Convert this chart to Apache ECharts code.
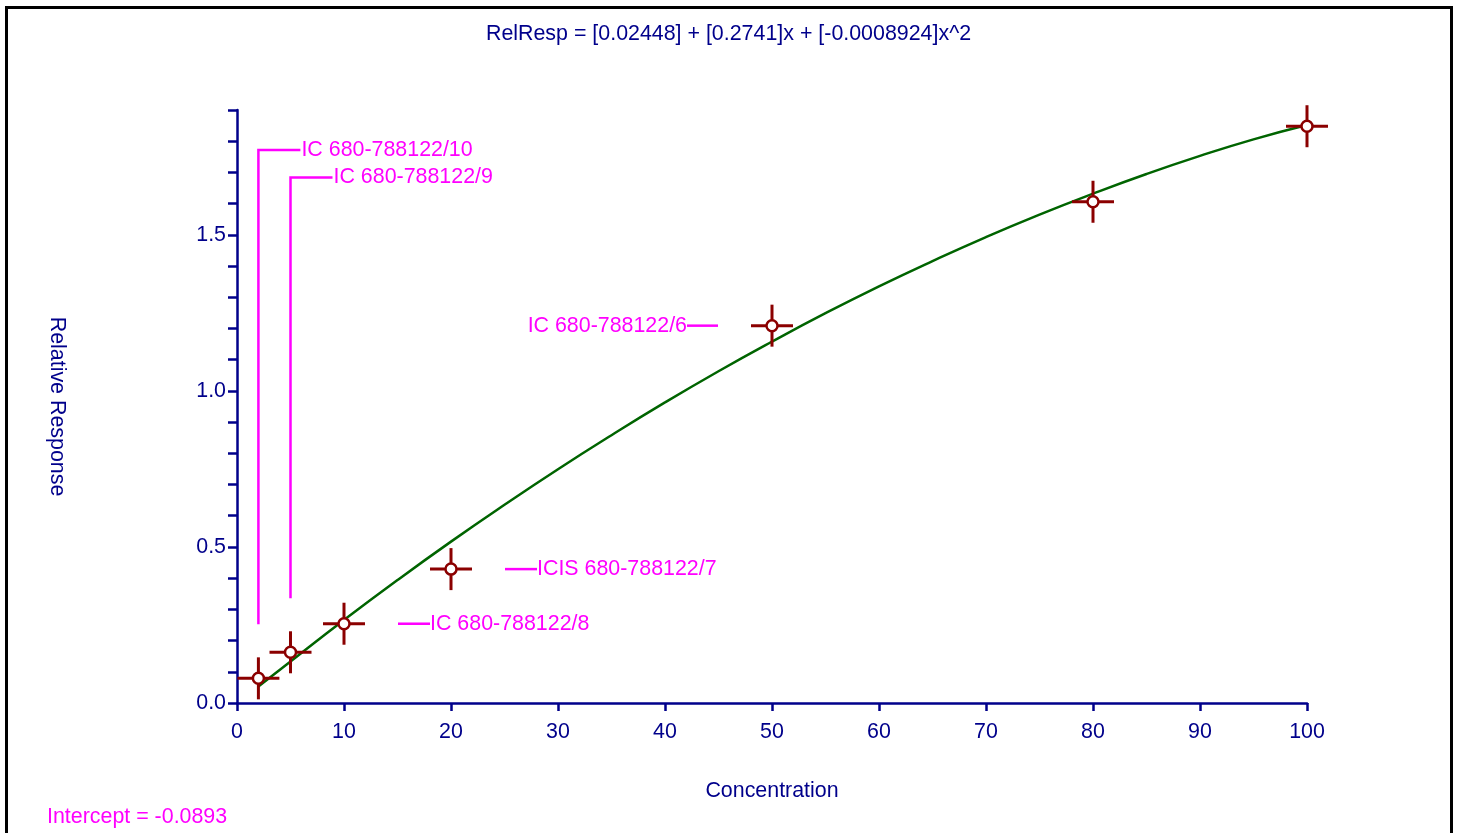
<!DOCTYPE html>
<html>
<head>
<meta charset="utf-8">
<script src="https://cdn.jsdelivr.net/npm/echarts@6/dist/echarts.min.js"></script>
<style>
  html, body { margin: 0; padding: 0; background: #fff; }
  #chart { width: 1457px; height: 833px; }
</style>
</head>
<body>
<div id="chart"></div>
<script>
// ---- data ----
const pointX = [2, 5, 10, 20, 50, 80, 100];
const pointY = [0.079, 0.1625, 0.254, 0.429, 1.209, 1.606, 1.848];
const pointLabels = ['IC 680-788122/10', 'IC 680-788122/9', 'IC 680-788122/8', 'ICIS 680-788122/7', 'IC 680-788122/6', '', ''];
const curveX = [2, 5, 10, 15, 20, 25, 30, 35, 40, 45, 50, 55, 60, 65, 70, 75, 80, 85, 90, 95, 100];
const curveY = [0.053, 0.133, 0.266, 0.394, 0.517, 0.635, 0.749, 0.858, 0.963, 1.063, 1.158, 1.249, 1.335, 1.416, 1.493, 1.565, 1.632, 1.695, 1.753, 1.806, 1.852];
const titleText = 'RelResp = [0.02448] + [0.2741]x + [-0.0008924]x^2';
const interceptText = 'Intercept = -0.0893';
const xName = 'Concentration';
const yName = 'Relative Response';

// ---- styling / layout ----
const FONT = 'Liberation Sans, Arial, sans-serif';
const NAVY = '#00008B';
const MAGENTA = '#FF00FF';
const MARK = '#8B0000';
const CURVE = '#006400';
const FS = 21.4;

// annotation layout: how each label is attached to its point
const annotLayout = [
  { dir: 'up', labelY: 1.772 },
  { dir: 'up', labelY: 1.684 },
  { dir: 'right' },
  { dir: 'right' },
  { dir: 'left' }
];

const curveData = curveX.map((x, i) => [x, curveY[i]]);
const pointData = pointX.map((x, i) => [x, pointY[i]]);
const annotData = pointLabels.map((t, i) => [pointX[i], pointY[i], i]).filter(d => pointLabels[d[2]] !== '');

const chart = echarts.init(document.getElementById('chart'), null, { renderer: 'canvas' });

const option = {
  backgroundColor: '#fff',
  animation: false,
  title: {
    text: titleText,
    left: 'center',
    top: 19,
    textStyle: { fontFamily: FONT, fontSize: FS, fontWeight: 'normal', color: NAVY }
  },
  grid: { left: 237, right: 150, top: 110, bottom: 130, containLabel: false },
  xAxis: {
    type: 'value',
    min: 0, max: 100, interval: 10,
    name: xName,
    nameLocation: 'middle',
    nameGap: 78,
    nameTextStyle: { fontFamily: FONT, fontSize: FS, color: NAVY },
    axisLine: { show: true, onZero: false, lineStyle: { color: NAVY, width: 2.5 } },
    axisTick: { show: true, inside: false, length: 8, lineStyle: { color: NAVY, width: 2.5 } },
    axisLabel: { fontFamily: FONT, fontSize: FS, color: NAVY, margin: 19 },
    splitLine: { show: false }
  },
  yAxis: {
    type: 'value',
    min: 0, max: 1.9, interval: 0.1,
    name: yName,
    nameLocation: 'middle',
    nameRotate: -90,
    nameGap: 170,
    nameTextStyle: { fontFamily: FONT, fontSize: FS, color: NAVY },
    axisLine: { show: true, onZero: false, lineStyle: { color: NAVY, width: 2.5 } },
    axisTick: { show: true, inside: false, length: 9, lineStyle: { color: NAVY, width: 2.5 } },
    axisLabel: {
      fontFamily: FONT, fontSize: FS, color: NAVY, margin: 11,
      formatter: function (v) {
        return Math.abs(v * 2 - Math.round(v * 2)) < 1e-6 ? v.toFixed(1) : '';
      }
    },
    splitLine: { show: false }
  },
  graphic: [
    {
      type: 'rect',
      shape: { x: 6.5, y: 7.5, width: 1445, height: 900 },
      style: { fill: 'none', stroke: '#000', lineWidth: 3 },
      silent: true
    },
    {
      type: 'text',
      left: 47,
      top: 807,
      style: { text: interceptText, font: FS + 'px ' + FONT, fill: MAGENTA }
    }
  ],
  series: [
    {
      type: 'line',
      data: curveData,
      smooth: true,
      showSymbol: false,
      symbol: 'none',
      lineStyle: { color: CURVE, width: 2.5 },
      z: 2
    },
    {
      type: 'custom',
      data: annotData,
      z: 1,
      renderItem: function (params, api) {
        const idx = api.value(2);
        const lay = annotLayout[idx];
        const p = api.coord([api.value(0), api.value(1)]);
        const text = pointLabels[idx];
        const ls = { stroke: MAGENTA, lineWidth: 2.5 };
        const font = FS + 'px ' + FONT;
        const children = [];
        if (lay.dir === 'up') {
          const top = api.coord([api.value(0), lay.labelY])[1];
          children.push({ type: 'polyline', shape: { points: [[p[0], p[1] - 54], [p[0], top], [p[0] + 42, top]] }, style: Object.assign({ fill: 'none' }, ls) });
          children.push({ type: 'text', style: { text: text, x: p[0] + 43, y: top, textAlign: 'left', textVerticalAlign: 'middle', font: font, fill: MAGENTA } });
        } else if (lay.dir === 'right') {
          children.push({ type: 'line', shape: { x1: p[0] + 54, y1: p[1], x2: p[0] + 86, y2: p[1] }, style: ls });
          children.push({ type: 'text', style: { text: text, x: p[0] + 86, y: p[1], textAlign: 'left', textVerticalAlign: 'middle', font: font, fill: MAGENTA } });
        } else {
          children.push({ type: 'line', shape: { x1: p[0] - 54, y1: p[1], x2: p[0] - 85, y2: p[1] }, style: ls });
          children.push({ type: 'text', style: { text: text, x: p[0] - 85, y: p[1], textAlign: 'right', textVerticalAlign: 'middle', font: font, fill: MAGENTA } });
        }
        return { type: 'group', children: children };
      }
    },
    {
      type: 'custom',
      data: pointData,
      z: 3,
      renderItem: function (params, api) {
        const p = api.coord([api.value(0), api.value(1)]);
        const ls = { stroke: MARK, lineWidth: 3 };
        return {
          type: 'group',
          children: [
            { type: 'line', shape: { x1: p[0] - 21, y1: p[1], x2: p[0] + 21, y2: p[1] }, style: ls },
            { type: 'line', shape: { x1: p[0], y1: p[1] - 21, x2: p[0], y2: p[1] + 21 }, style: ls },
            { type: 'circle', shape: { cx: p[0], cy: p[1], r: 5.5 }, style: { fill: '#fff', stroke: MARK, lineWidth: 2.5 } }
          ]
        };
      }
    }
  ]
};

chart.setOption(option);
</script>
</body>
</html>
